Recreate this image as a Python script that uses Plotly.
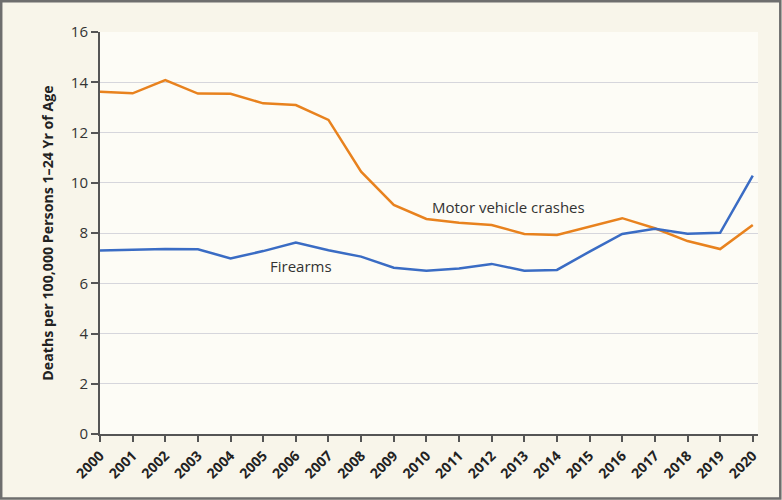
import plotly.graph_objects as go

years = list(range(2000, 2021))
motor_vehicle = [13.62, 13.56, 14.09, 13.55, 13.54, 13.16, 13.09, 12.50, 10.44, 9.12,
                 8.56, 8.41, 8.32, 7.96, 7.92, 8.25, 8.59, 8.19, 7.68, 7.36, 8.32]
firearms = [7.30, 7.34, 7.36, 7.35, 6.99, 7.28, 7.62, 7.31, 7.06, 6.62,
            6.50, 6.59, 6.77, 6.50, 6.53, 7.26, 7.96, 8.17, 7.97, 8.01, 10.28]
y_ticks = [0, 2, 4, 6, 8, 10, 12, 14, 16]

FONT = "Open Sans"
ML, MR, MT, MB = 100, 24, 32, 66
W, H = 782, 500
pw = W - ML - MR
ph = H - MT - MB

fig = go.Figure()
fig.add_trace(go.Scatter(x=years, y=motor_vehicle, mode="lines",
                         line=dict(color="#e8821e", width=2.5), name="Motor vehicle crashes"))
fig.add_trace(go.Scatter(x=years, y=firearms, mode="lines",
                         line=dict(color="#3a6cc4", width=2.5), name="Firearms"))

fig.add_annotation(x=2010.1, y=9.03, text="Motor vehicle crashes", showarrow=False,
                   xanchor="left", yanchor="middle", font=dict(family=FONT, size=15, color="#333333"))
fig.add_annotation(x=2006.17, y=6.69, text="Firearms", showarrow=False,
                   xanchor="center", yanchor="middle", font=dict(family=FONT, size=15, color="#333333"))

# outer frame
def px_x(p):
    return (p - ML) / pw
def px_y(p):
    return (H - MB - p) / ph
fig.add_shape(type="rect", xref="paper", yref="paper",
              x0=px_x(1.2), x1=px_x(780.3), y0=px_y(1.2), y1=px_y(498.5),
              line=dict(color="#6e6e6e", width=2.5), fillcolor="rgba(0,0,0,0)", layer="above")

fig.update_layout(
    width=W, height=H,
    margin=dict(l=ML, r=MR, t=MT, b=MB),
    paper_bgcolor="#f8f5ea",
    plot_bgcolor="#fdfcf6",
    showlegend=False,
    font=dict(family=FONT, color="#333333"),
    xaxis=dict(range=[2000, 2020.16], tickmode="array", tickvals=years,
               ticktext=[f"<b>{y}</b>" for y in years], tickangle=-45,
               tickfont=dict(family=FONT, size=14, color="#222222"),
               showgrid=False, zeroline=False, showline=True, linecolor="#555555", linewidth=2,
               ticks="outside", ticklen=6, tickcolor="#555555", tickwidth=1.5),
    yaxis=dict(range=[0, 16], tickmode="array", tickvals=y_ticks,
               tickfont=dict(family=FONT, size=15, color="#333333"),
               showgrid=True, gridcolor="#d6d6dc", gridwidth=1.2, zeroline=False,
               showline=True, linecolor="#555555", linewidth=2,
               ticks="outside", ticklen=7, tickcolor="#555555", tickwidth=1.5,
               title=dict(text="<b>Deaths per 100,000 Persons 1\u201324 Yr of Age</b>",
                          font=dict(family=FONT, size=14.2, color="#222222"), standoff=14)),
)

fig.write_html("out.html")
